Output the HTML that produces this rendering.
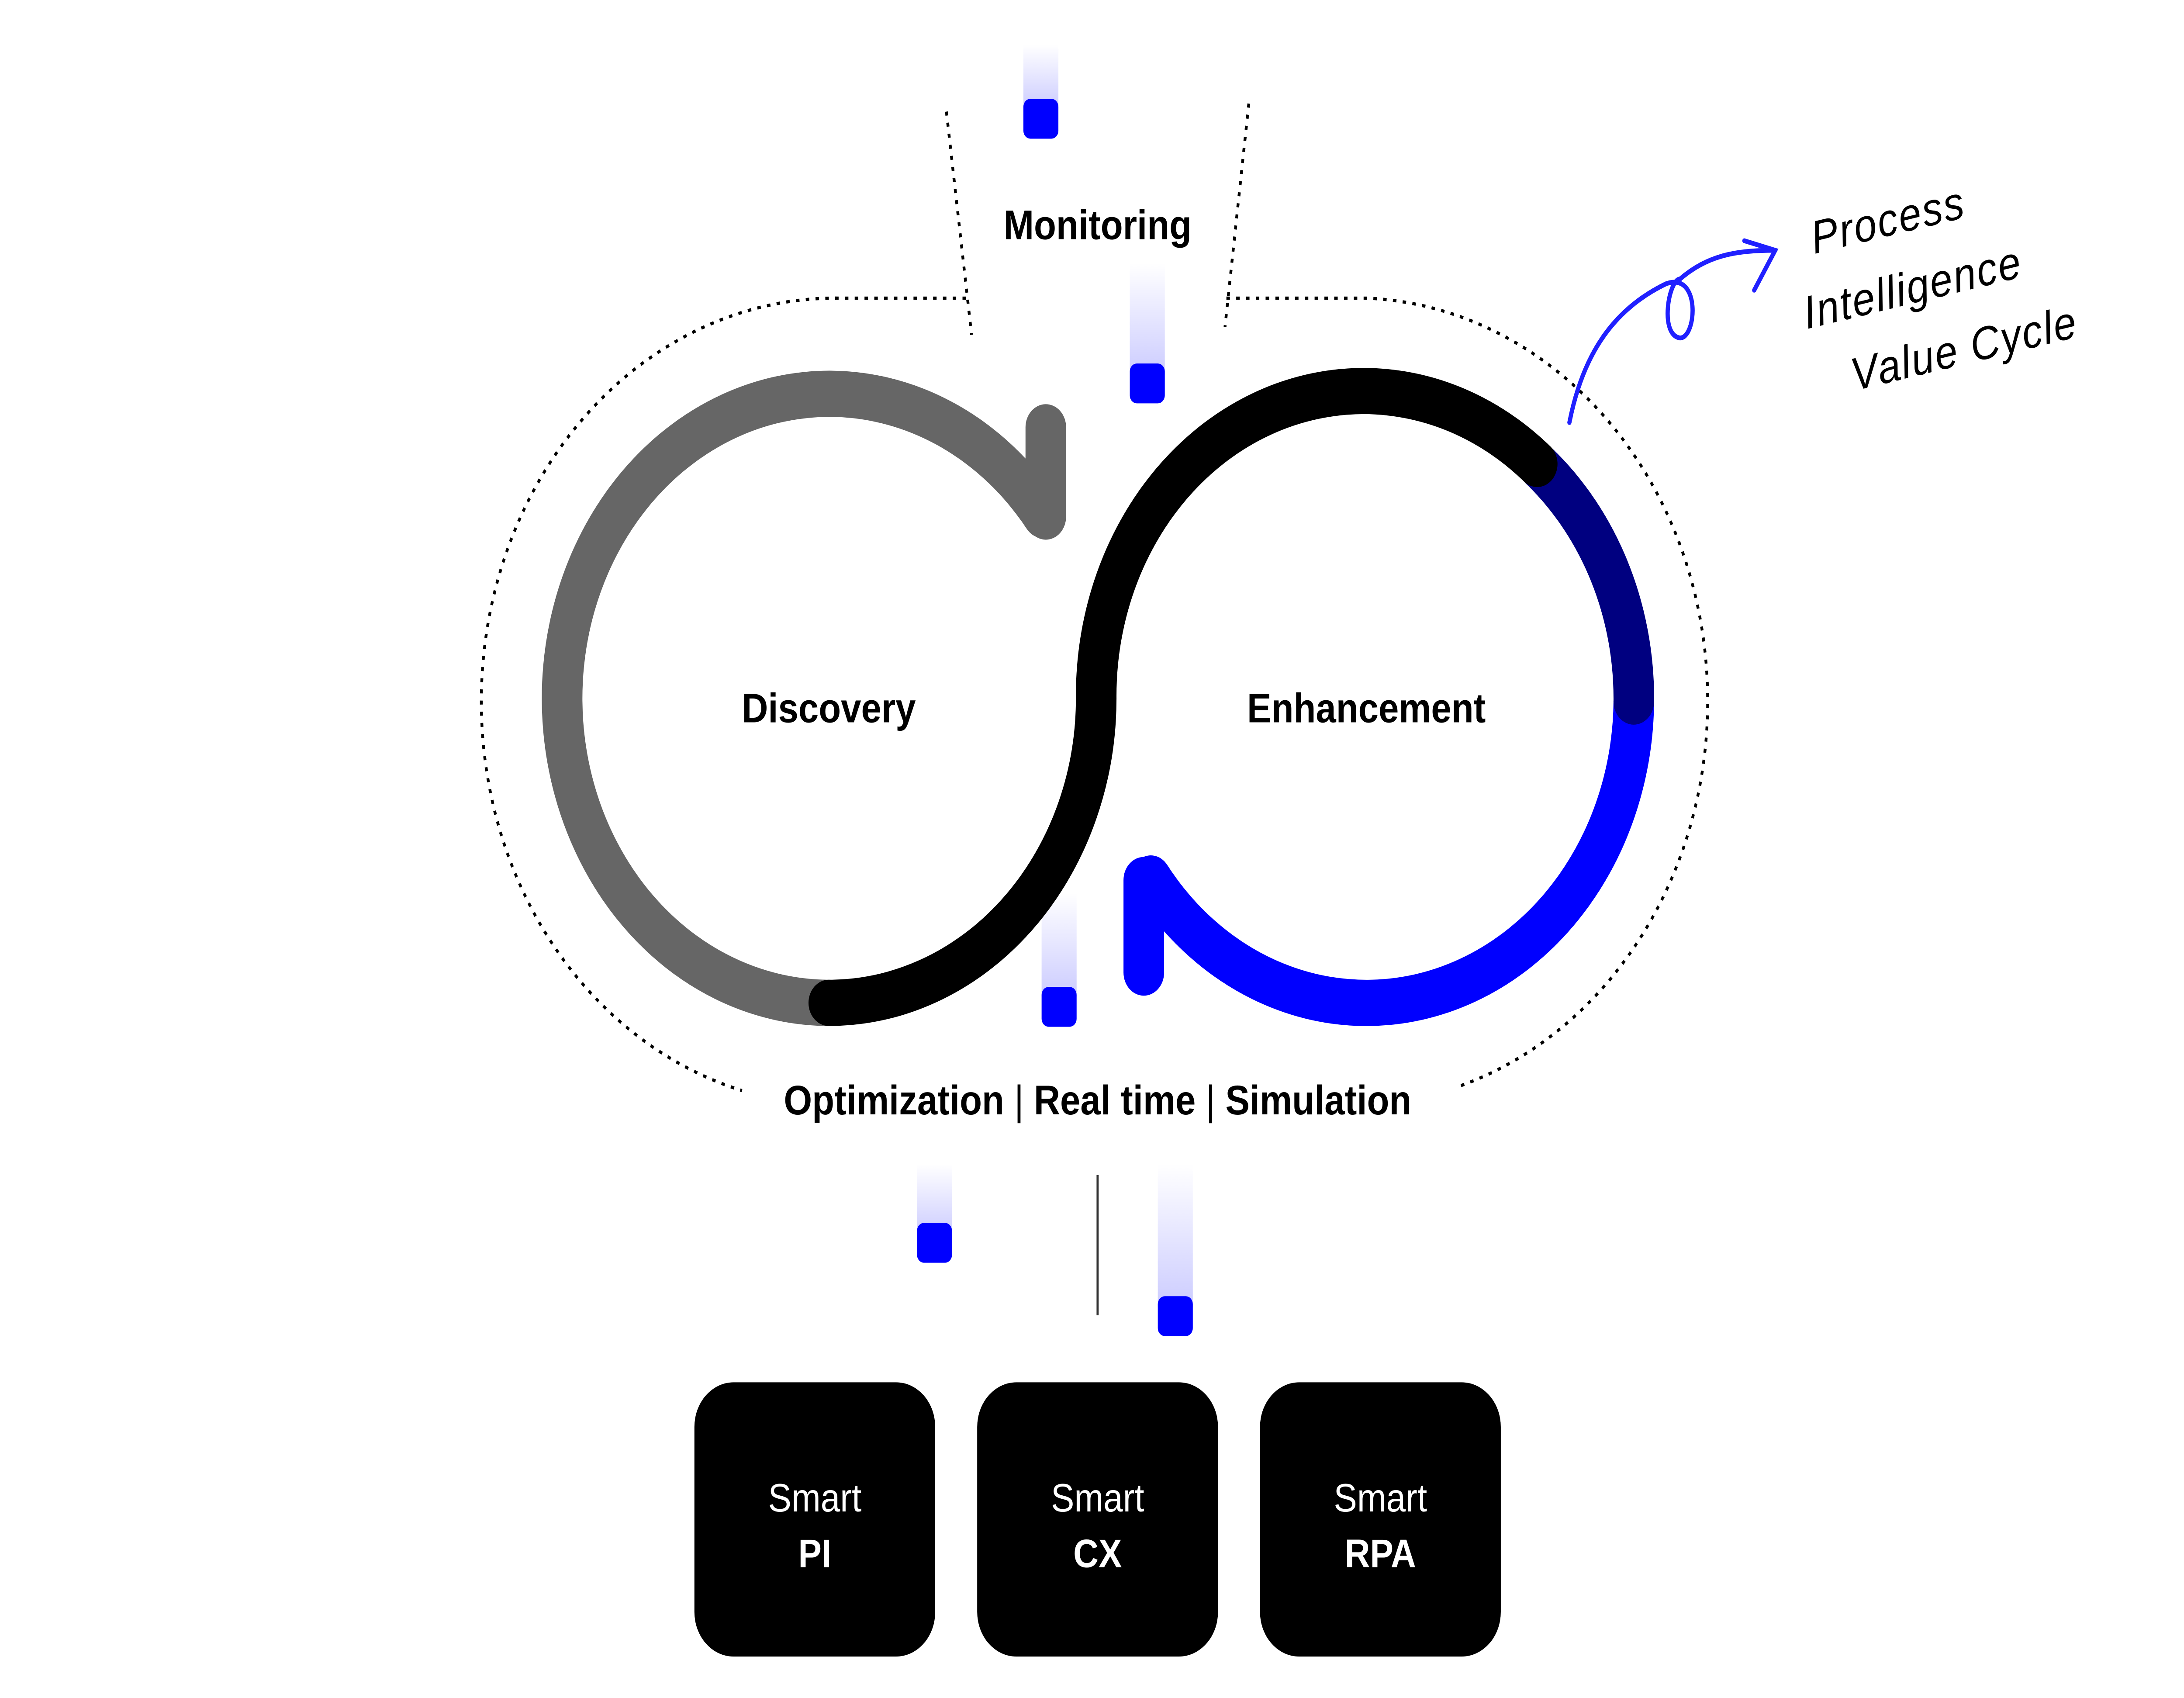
<!DOCTYPE html>
<html><head><meta charset="utf-8"><style>
html,body{margin:0;padding:0;background:#fff;overflow:hidden;width:100%;height:100%;}
svg{display:block;width:100vw;height:100vh;}
text{font-family:"Liberation Sans",sans-serif;}
</style></head><body>
<svg viewBox="0 0 1560 1065" preserveAspectRatio="none" xmlns="http://www.w3.org/2000/svg">
<defs>
<linearGradient id="g" x1="0" y1="0" x2="0" y2="1">
<stop offset="0" stop-color="#0000ff" stop-opacity="0"/>
<stop offset="1" stop-color="#0000ff" stop-opacity="0.2"/>
</linearGradient>
</defs>
<rect width="1560" height="1065" fill="#fff"/>
<g fill="none" stroke="#000" stroke-width="2" stroke-dasharray="2.5 4.5">
<path d="M690 187 L600 187 A253 253 0 0 0 530 684"/>
<path d="M876 187 L976 187 A253 253 0 0 1 1040 682"/>
<path d="M676 70 L694 210"/>
<path d="M892 65 L875 205"/>
</g>
<g>
<rect x="731" y="28" width="25" height="40" fill="url(#g)"/><rect x="731" y="62" width="25" height="25" rx="5" fill="#0000ff"/>
<rect x="807" y="165" width="25" height="70" fill="url(#g)"/><rect x="807" y="228" width="25" height="25" rx="5" fill="#0000ff"/>
<rect x="744" y="560" width="25" height="65" fill="url(#g)"/><rect x="744" y="619" width="25" height="25" rx="5" fill="#0000ff"/>
<rect x="655" y="730" width="25" height="45" fill="url(#g)"/><rect x="655" y="767" width="25" height="25" rx="5" fill="#0000ff"/>
<rect x="827" y="730" width="25" height="90" fill="url(#g)"/><rect x="827" y="813" width="25" height="25" rx="5" fill="#0000ff"/>
</g>
<line x1="784" y1="737" x2="784" y2="825" stroke="#333" stroke-width="1.5"/>
<g fill="none" stroke-width="29" stroke-linecap="round">
<path d="M592 629 A191 191 0 1 1 745 323" stroke="#666"/>
<path d="M747 268 L747 324" stroke="#666"/>
<path d="M1167 440 A191 191 0 0 1 822 551" stroke="#0000ff"/>
<path d="M817 552 L817 610" stroke="#0000ff"/>
<path d="M1099 292 A191 191 0 0 1 1167 440" stroke="#000080"/>
<path d="M592 629 A191 191 0 0 0 783 438 A191 191 0 0 1 1098 291" stroke="#000"/>
</g>
<g font-size="26" font-weight="bold" fill="#000" text-anchor="middle">
<text x="784" y="150">Monitoring</text>
<text x="592" y="453">Discovery</text>
<text x="976" y="453">Enhancement</text>
<text x="784" y="699">Optimization <tspan font-weight="normal">|</tspan> Real time <tspan font-weight="normal">|</tspan> Simulation</text>
</g>
<g>
<rect x="496" y="867" width="172" height="172" rx="28" fill="#000"/>
<rect x="698" y="867" width="172" height="172" rx="28" fill="#000"/>
<rect x="900" y="867" width="172" height="172" rx="28" fill="#000"/>
</g>
<g fill="#fff" text-anchor="middle" font-size="25">
<text x="582" y="948">Smart</text><text x="582" y="983" font-weight="bold">PI</text>
<text x="784" y="948">Smart</text><text x="784" y="983" font-weight="bold">CX</text>
<text x="986" y="948">Smart</text><text x="986" y="983" font-weight="bold">RPA</text>
</g>
<g fill="none" stroke="#2020ff" stroke-width="3" stroke-linecap="round">
<path d="M1121 265 C1130 225 1150 195 1190 178 C1215 170 1212 212 1200 212 C1185 210 1192 175 1200 175 C1220 160 1240 157 1268 157"/>
<path d="M1246 151 L1268 157 L1253 182"/>
</g>
<g font-style="italic" font-size="29" fill="#000" letter-spacing="1" transform="rotate(-12 1380 170)">
<text x="1300" y="142">Process</text>
<text x="1285" y="187">Intelligence</text>
<text x="1310" y="232">Value Cycle</text>
</g>
</svg>
</body></html>
